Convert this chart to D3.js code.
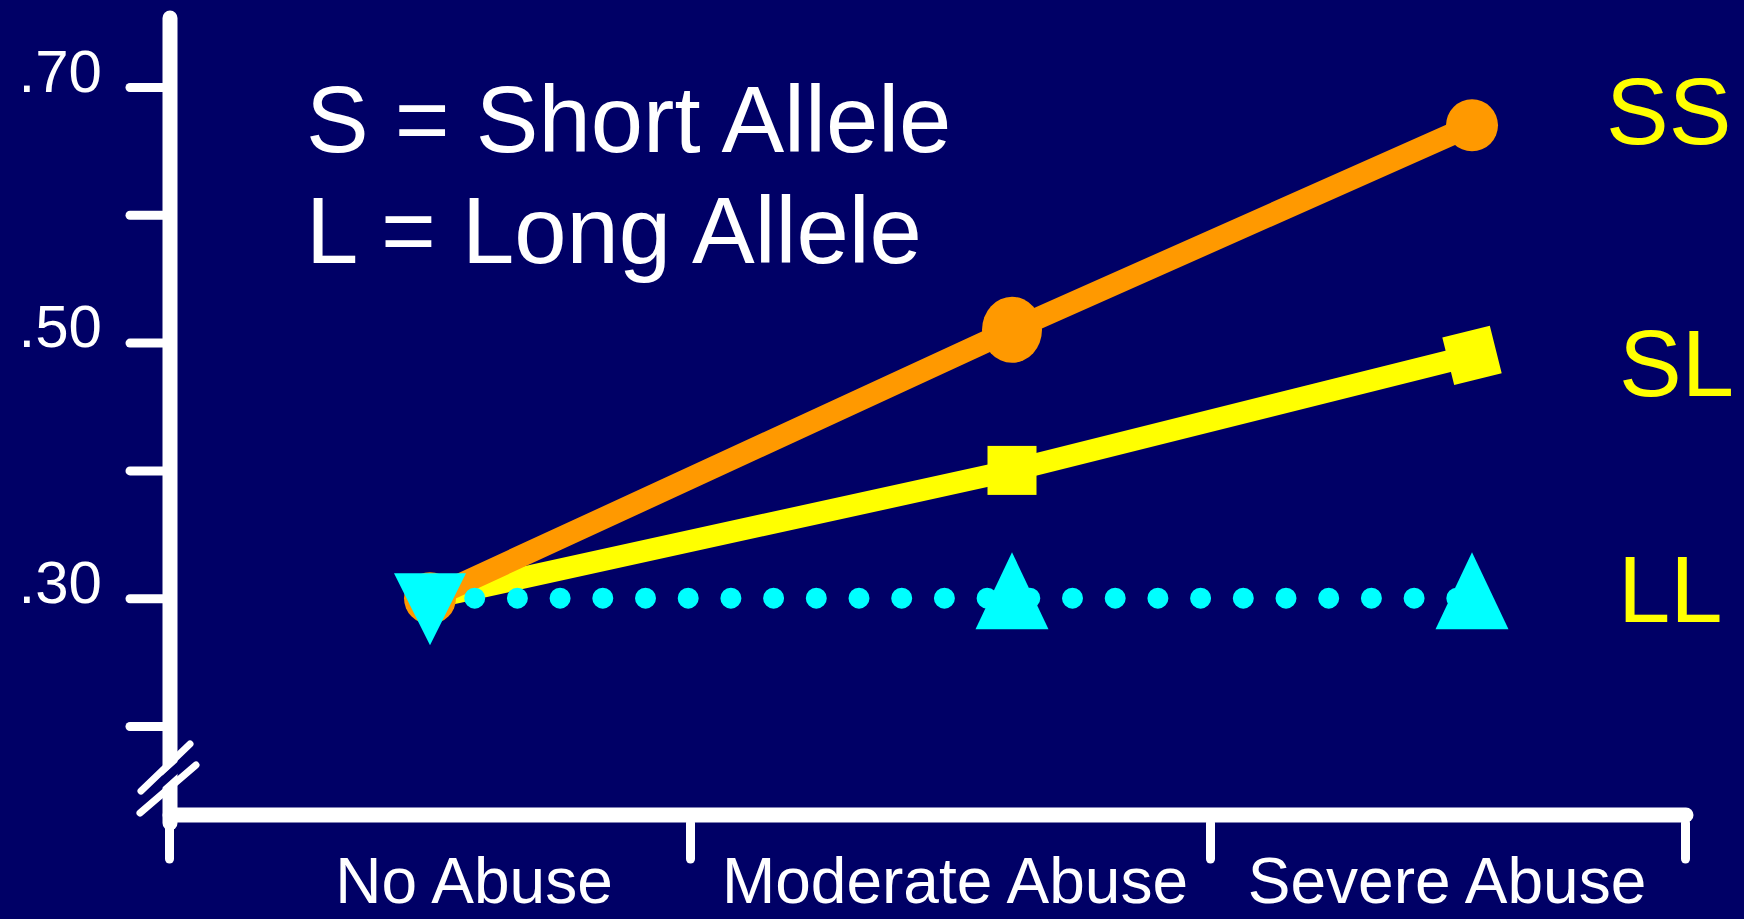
<!DOCTYPE html>
<html>
<head>
<meta charset="utf-8">
<script src="https://cdn.jsdelivr.net/npm/d3@7"></script>
<style>
    html, body { margin: 0; padding: 0; background: #000066; }
    svg { display: block; }
</style>
</head>
<body>
<div id="chart"></div>
<script>
"use strict"

// values
const categories = ["No Abuse", "Moderate Abuse", "Severe Abuse"];
const ssValues = [0.30, 0.51, 0.67];
const slValues = [0.30, 0.40, 0.49];
const llValues = [0.30, 0.30, 0.30];
const yTickValues = [0.20, 0.30, 0.40, 0.50, 0.60, 0.70];
const yTickLabels = ["", ".30", "", ".50", "", ".70"];
const seriesNames = ["SS", "SL", "LL"];
const noteLines = ["S = Short Allele", "L = Long Allele"];

const width = 1744, height = 919;
const font = "'Liberation Sans', Arial, sans-serif";
const navy = "#000066", white = "#ffffff";
const orange = "#ff9900", yellow = "#ffff00", cyan = "#00ffff";

const axisX = 170, axisY = 815;

const svg = d3.select("#chart").append("svg")
    .attr("width", width)
    .attr("height", height);

svg.append("rect")
    .attr("width", width)
    .attr("height", height)
    .attr("fill", navy);

let y = d3.scaleLinear()
    .domain([0.2, 0.7])
    .range([726, 87]);

// markers are not centred in the category bands, so map each one
let xPoint = d3.scaleOrdinal()
    .domain(categories)
    .range([430, 1012, 1472]);

let xLabel = d3.scaleOrdinal()
    .domain(categories)
    .range([474, 955, 1447]);

// band edges of the category axis
let xEdge = d3.scaleLinear()
    .domain([0, 1, 2, 3])
    .range([169, 690, 1210, 1685]);

drawAxes();
drawNotes();
drawSL();
drawSS();
drawLL();
drawSeriesLabels();

function drawAxes() {
    // y axis line
    svg.append("line")
        .attr("x1", axisX).attr("y1", 18)
        .attr("x2", axisX).attr("y2", axisY + 8)
        .style("stroke", white)
        .style("stroke-width", "15px")
        .style("stroke-linecap", "round");

    let yAxis = svg.append("g")
        .attr("transform", `translate(${axisX},0)`)
        .call(d3.axisLeft(y)
            .tickValues(yTickValues)
            .tickSize(40)
            .tickPadding(28)
            .tickFormat((d, i) => yTickLabels[i]));

    yAxis.select(".domain").remove();
    yAxis.selectAll("line")
        .style("stroke", white)
        .style("stroke-width", "9px")
        .style("stroke-linecap", "round");
    yAxis.selectAll("text")
        .attr("dy", 4)
        .style("fill", white)
        .style("font-family", font)
        .style("font-size", "60px");

    // x axis line
    svg.append("line")
        .attr("x1", axisX).attr("y1", axisY)
        .attr("x2", 1686).attr("y2", axisY)
        .style("stroke", white)
        .style("stroke-width", "15px")
        .style("stroke-linecap", "round");

    let xAxis = svg.append("g")
        .attr("transform", `translate(0,${axisY + 8})`)
        .call(d3.axisBottom(xEdge)
            .tickValues([0, 1, 2, 3])
            .tickSize(36)
            .tickFormat(""));

    xAxis.select(".domain").remove();
    xAxis.selectAll("line")
        .style("stroke", white)
        .style("stroke-width", "9px")
        .style("stroke-linecap", "round");

    svg.append("g")
        .selectAll("text")
        .data(categories)
        .join("text")
        .attr("x", d => xLabel(d))
        .attr("y", 903)
        .attr("text-anchor", "middle")
        .style("fill", white)
        .style("font-family", font)
        .style("font-size", "64px")
        .text(d => d);

    // axis break
    let brk = svg.append("g").attr("transform", `translate(${axisX},${axisY})`);
    brk.append("line")
        .attr("x1", -26).attr("y1", -17)
        .attr("x2", 22).attr("y2", -60)
        .style("stroke", navy)
        .style("stroke-width", "9px");
    [[-29, -24, 20, -71], [-30, -2, 26, -50]].forEach(function(s) {
        brk.append("line")
            .attr("x1", s[0]).attr("y1", s[1])
            .attr("x2", s[2]).attr("y2", s[3])
            .style("stroke", white)
            .style("stroke-width", "7px")
            .style("stroke-linecap", "round");
    });
}

function drawNotes() {
    svg.append("g")
        .selectAll("text")
        .data(noteLines)
        .join("text")
        .attr("x", 306)
        .attr("y", (d, i) => 152 + i * 111)
        .style("fill", white)
        .style("font-family", font)
        .style("font-size", "94px")
        .text(d => d);
}

function linePath(values) {
    let lineFunc = d3.line()
        .x(function(d, i) {
            return xPoint(categories[i]);
        })
        .y(function(d) {
            return y(d);
        });
    return lineFunc(values);
}

function drawSL() {
    svg.append("path")
        .attr("d", linePath(slValues))
        .style("stroke", yellow)
        .style("stroke-width", "22px")
        .style("fill", "none");

    let last = slValues.length - 1;
    let tilt = Math.atan2(y(slValues[last]) - y(slValues[last - 1]),
        xPoint(categories[last]) - xPoint(categories[last - 1])) * 180 / Math.PI;

    // the first square sits hidden under the SS circle
    for (let i = 1; i < slValues.length; i++) {
        svg.append("rect")
            .attr("x", -24.5).attr("y", -24.5)
            .attr("width", 49).attr("height", 49)
            .attr("transform", `translate(${xPoint(categories[i])},${y(slValues[i])}) rotate(${i === last ? tilt : 0})`)
            .style("fill", yellow);
    }
}

function drawSS() {
    svg.append("path")
        .attr("d", linePath(ssValues))
        .style("stroke", orange)
        .style("stroke-width", "22px")
        .style("fill", "none");

    const circleSize = [[26, 26], [30, 33], [26, 26]];
    svg.append("g")
        .selectAll("ellipse")
        .data(ssValues)
        .join("ellipse")
        .attr("cx", (d, i) => xPoint(categories[i]))
        .attr("cy", d => y(d))
        .attr("rx", (d, i) => circleSize[i][0])
        .attr("ry", (d, i) => circleSize[i][1])
        .style("fill", orange);
}

function drawLL() {
    svg.append("path")
        .attr("d", linePath(llValues))
        .style("stroke", cyan)
        .style("stroke-width", "21px")
        .style("stroke-linecap", "round")
        .style("stroke-dasharray", "0 42.7")
        .style("stroke-dashoffset", -2)
        .style("fill", "none");

    svg.append("g")
        .selectAll("path")
        .data(llValues)
        .join("path")
        .attr("transform", (d, i) => `translate(${xPoint(categories[i])},${y(d)})`)
        .attr("d", (d, i) => i === 0
            ? "M-36,-25L36,-25L0,47Z"
            : "M0,-46L36.5,31L-36.5,31Z")
        .style("fill", cyan);
}

function drawSeriesLabels() {
    const labelPos = [[1606, 144], [1619, 396], [1618, 622]];
    svg.append("g")
        .selectAll("text")
        .data(seriesNames)
        .join("text")
        .attr("x", (d, i) => labelPos[i][0])
        .attr("y", (d, i) => labelPos[i][1])
        .style("fill", yellow)
        .style("font-family", font)
        .style("font-size", "94px")
        .text(d => d);
}
</script>
</body>
</html>
